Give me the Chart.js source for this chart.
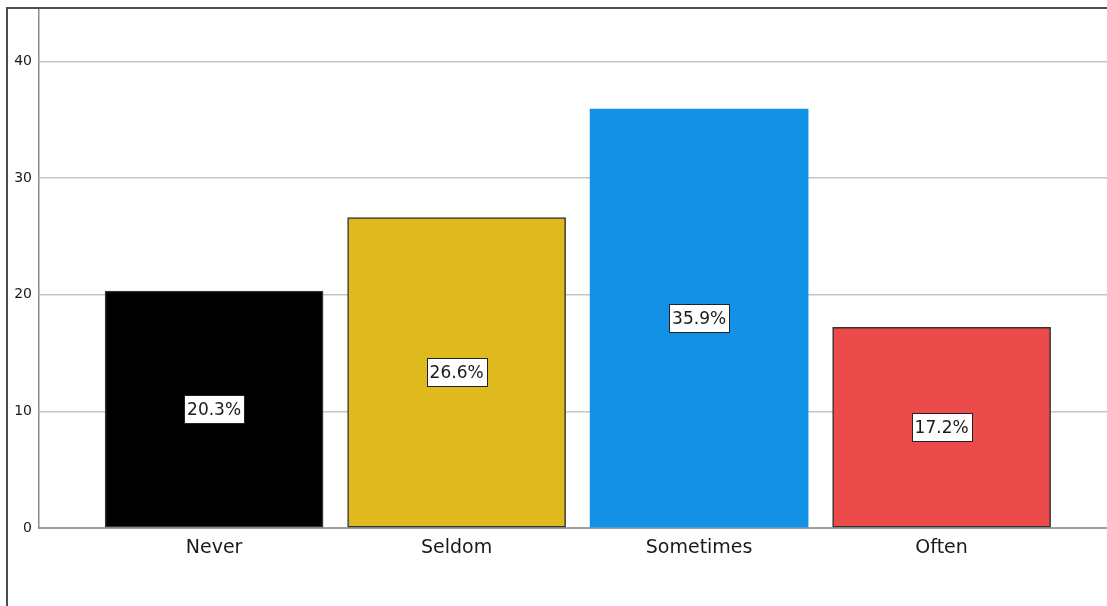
<!DOCTYPE html>
<html>
<head>
<meta charset="utf-8">
<script src="https://cdn.jsdelivr.net/npm/chart.js@4"></script>
<style>
  html, body { margin: 0; padding: 0; background: #fff; overflow: hidden; }
  #wrap { position: relative; width: 1107px; height: 606px; }
  #frame { position: absolute; left: 6px; top: 7px; width: 1200px; height: 700px;
           border-left: 2px solid #4d4d4d; border-top: 2px solid #4d4d4d; pointer-events: none; }
</style>
</head>
<body>
<div id="wrap">
  <canvas id="c" width="1107" height="606"></canvas>
  <div id="frame"></div>
</div>
<script>
const categories = ["Never", "Seldom", "Sometimes", "Often"];
const percentValues = [20.3, 26.6, 35.9, 17.2];
const yTickValues = [0, 10, 20, 30, 40];
const barColors = ["#000000", "#DFBA1F", "#1391E6", "#EC4B4B"];
const barBorderWidths = [1.5, 1.5, 0, 1.5];

const points = percentValues.map((v, i) => ({ x: i + 1, y: v }));

const labelPlugin = {
  id: 'boxLabels',
  afterDatasetsDraw(chart) {
    const ctx = chart.ctx;
    const meta = chart.getDatasetMeta(0);
    ctx.save();
    ctx.font = '17px "DejaVu Sans"';
    ctx.textAlign = 'center';
    ctx.textBaseline = 'middle';
    meta.data.forEach((bar, i) => {
      const text = percentValues[i].toFixed(1) + '%';
      const cx = bar.x;
      const cy = (bar.y + bar.base) / 2;
      const w = ctx.measureText(text).width + 6;
      const h = 28;
      const x0 = Math.round(cx - w / 2) + 0.5, y0 = Math.round(cy - h / 2) + 0.5;
      ctx.fillStyle = '#ffffff';
      ctx.fillRect(x0, y0, Math.round(w), h);
      ctx.strokeStyle = '#222';
      ctx.lineWidth = 1;
      ctx.strokeRect(x0, y0, Math.round(w), h);
      ctx.fillStyle = '#1a1a1a';
      ctx.fillText(text, cx, cy + 1);
    });
    ctx.restore();
  }
};

new Chart(document.getElementById('c'), {
  type: 'bar',
  data: {
    datasets: [{
      data: points,
      backgroundColor: barColors,
      borderColor: '#333333',
      borderWidth: barBorderWidths,
      borderSkipped: false,
      barThickness: 218
    }]
  },
  options: {
    responsive: false,
    animation: false,
    layout: { padding: { top: 10, left: 0, right: 0, bottom: 0 } },
    plugins: { legend: { display: false }, tooltip: { enabled: false } },
    scales: {
      x: {
        type: 'linear',
        offset: false,
        min: 0.278,
        max: 4.682,
        afterBuildTicks(scale) { scale.ticks = categories.map((c, i) => ({ value: i + 1 })); },
        afterFit(scale) { scale.height = 78; scale.paddingLeft = 0; scale.paddingRight = 0; },
        grid: { display: false, drawTicks: false, offset: false },
        border: { display: true, color: '#a0a0a0', width: 2 },
        ticks: {
          padding: 9,
          color: '#1a1a1a',
          font: { family: 'DejaVu Sans', size: 19 },
          maxRotation: 0,
          autoSkip: false,
          callback: (v) => categories[Math.round(v) - 1] || ''
        }
      },
      y: {
        min: 0,
        max: 44.4,
        afterBuildTicks(scale) { scale.ticks = yTickValues.map(v => ({ value: v })); },
        afterFit(scale) { scale.width = 39; scale.paddingTop = 0; scale.paddingBottom = 0; },
        grid: {
          drawTicks: false,
          color: (ctx) => ctx.tick && ctx.tick.value === 0 ? 'rgba(0,0,0,0)' : '#c4c4c4',
          lineWidth: 1.5
        },
        border: { display: true, color: '#8a8a8a', width: 1.5 },
        ticks: {
          padding: 7,
          color: '#1a1a1a',
          font: { family: 'DejaVu Sans', size: 14 }
        }
      }
    }
  },
  plugins: [labelPlugin]
});
</script>
</body>
</html>
